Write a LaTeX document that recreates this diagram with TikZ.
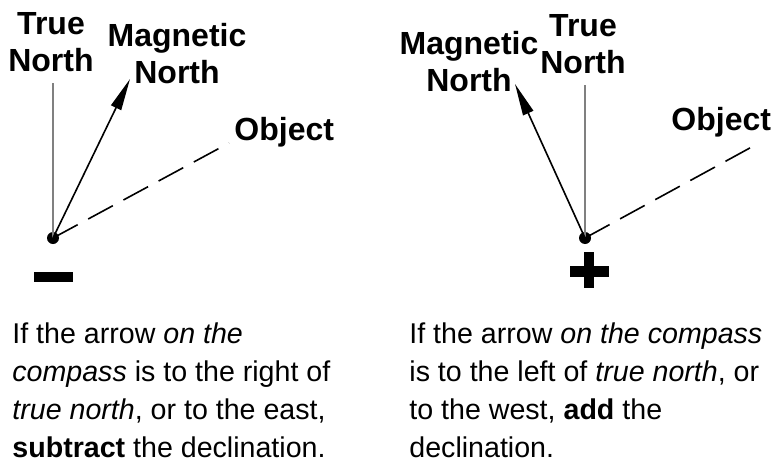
\documentclass[tikz,border=0pt]{standalone}
\usepackage{fontspec}
\setmainfont{Liberation Sans}
\usetikzlibrary{arrows.meta}
\begin{document}
\begin{tikzpicture}[x=0.5pt,y=-0.5pt,
  every node/.style={inner sep=0pt},
  label/.style={font=\fontsize{16}{18.5}\selectfont\bfseries, align=center, anchor=north},
  note/.style={font=\fontsize{14.3}{19}\selectfont, align=left, anchor=north west},
  dot/.style={circle, fill=black, minimum size=6pt},
  truenorth/.style={draw=black!50, line width=1.1pt},
  magnetic/.style={line width=0.8pt, -{Triangle[length=16pt,width=5.5pt]}},
  objline/.style={line width=0.8pt, dash pattern=on 14pt off 6pt}]
\useasboundingbox (0,0) rectangle (774,465);
% left compass
\node[dot] (dotL) at (53,238) {};
\coordinate (tnL) at (53,83);
\coordinate (mnL) at (130,79);
\coordinate (objL) at (229,143);
\draw[truenorth] (dotL.center) -- (tnL);
\draw[magnetic] (dotL.center) -- (mnL);
\draw[objline] (dotL.center) -- (objL);
\node[label] (tnlabelL) at (51,12) {True\\North};
\node[label] (mnlabelL) at (177,23) {Magnetic\\North};
\node[label, anchor=north west] (objlabelL) at (234,117) {Object};
\fill (34,272) rectangle (73,282);
\node[note] (textL) at (12,322) {If the arrow \textit{on the}\\
  \textit{compass} is to the right of\\
  \textit{true north}, or to the east,\\
  \textbf{subtract} the declination.};
% right compass
\node[dot] (dotR) at (585,238) {};
\coordinate (tnR) at (585,85);
\coordinate (mnR) at (515,84);
\coordinate (objR) at (759,143);
\draw[truenorth] (dotR.center) -- (tnR);
\draw[magnetic] (dotR.center) -- (mnR);
\draw[objline] (dotR.center) -- (objR);
\node[label] (tnlabelR) at (583,14) {True\\North};
\node[label] (mnlabelR) at (469,31) {Magnetic\\North};
\node[label, anchor=north west] (objlabelR) at (671,107) {Object};
\fill (570,266) rectangle (609,277);
\fill (584,252) rectangle (594,288);
\node[note] (textR) at (409,322) {If the arrow \textit{on the compass}\\
  is to the left of \textit{true north}, or\\
  to the west, \textbf{add} the\\
  declination.};
\end{tikzpicture}
\end{document}
